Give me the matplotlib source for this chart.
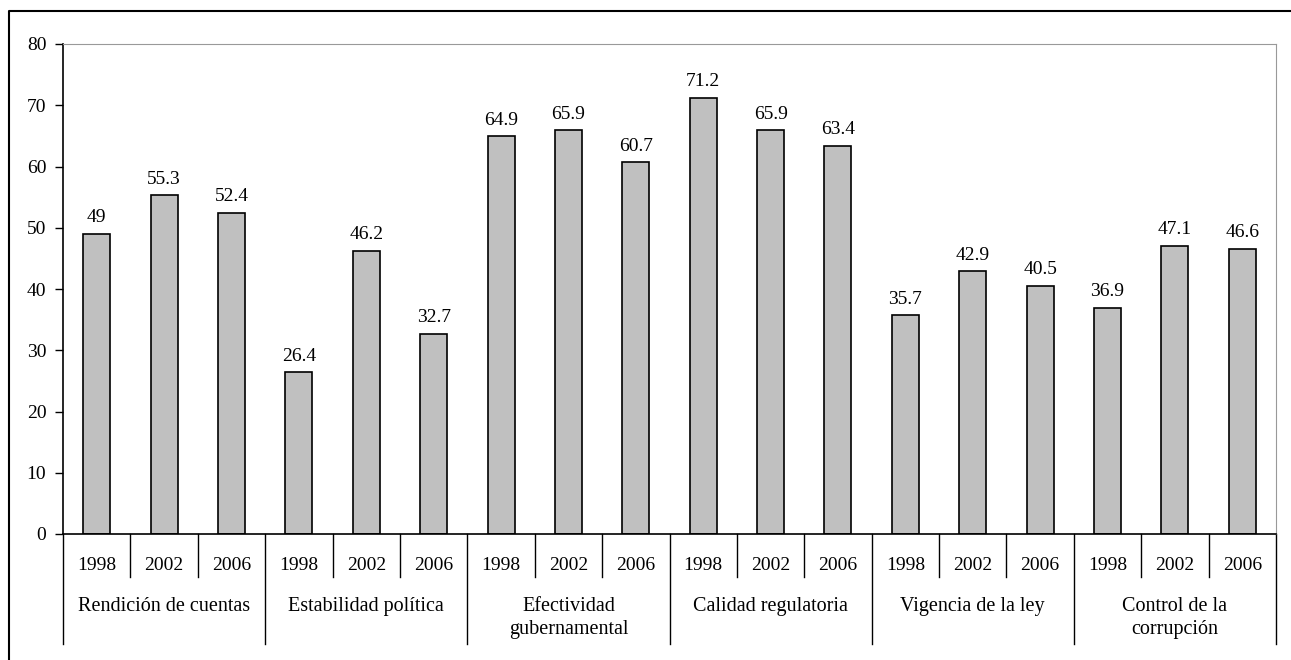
import matplotlib.pyplot as plt
from matplotlib.lines import Line2D
import numpy as np

plt.rcParams['font.family'] = ['Liberation Serif', 'DejaVu Serif']

groups = ["Rendición de cuentas", "Estabilidad política", "Efectividad\ngubernamental",
          "Calidad regulatoria", "Vigencia de la ley", "Control de la\ncorrupción"]
years = ["1998", "2002", "2006"]
values_1998 = [49, 26.4, 64.9, 71.2, 35.7, 36.9]
values_2002 = [55.3, 46.2, 65.9, 65.9, 42.9, 47.1]
values_2006 = [52.4, 32.7, 60.7, 63.4, 40.5, 46.6]

# interleave values group by group
vals = []
for a, b, c in zip(values_1998, values_2002, values_2006):
    vals += [a, b, c]
x = np.arange(len(vals))

fig = plt.figure(figsize=(12.91, 6.60), dpi=100)
ax = fig.add_axes([63/1291, 126/660, (1276-63)/1291, 490/660])

bars = ax.bar(x, vals, width=0.4, color='#c0c0c0', edgecolor='black', linewidth=1.2)
for xi, v in zip(x, vals):
    label = f"{v:g}"
    ax.annotate(label, (xi, v), xytext=(0, 5.5), textcoords='offset points',
                ha='center', va='bottom', fontsize=14)

ax.set_xlim(-0.5, len(vals) - 0.5)
ax.set_ylim(0, 80)
ax.set_yticks(np.arange(0, 81, 10))
ax.tick_params(axis='y', labelsize=14, length=6, width=1, direction='out', pad=6)
ax.set_xticks([])
ax.spines['top'].set_color('#999999')
ax.spines['right'].set_color('#999999')
ax.spines['left'].set_linewidth(1.2)
ax.spines['bottom'].set_linewidth(1.2)

# grouped category axis
tr = ax.get_xaxis_transform()
h = 490.0
for i in range(len(vals)):
    ax.text(i, -32/h, years[i % 3], transform=tr, ha='center', va='center', fontsize=14)
for i in range(len(vals) + 1):
    bottom = -110/h if i % 3 == 0 else -43/h
    ax.add_line(Line2D([i - 0.5, i - 0.5], [0, bottom], transform=tr, color='black',
                       linewidth=1, clip_on=False))
for g, name in enumerate(groups):
    ax.text(3*g + 1, -63/h, name, transform=tr, ha='center', va='top',
            fontsize=14.5, linespacing=1.3)

# outer frame
fig.add_artist(Line2D([9/1291, 9/1291, 1.0], [0.0, 1 - 11/660, 1 - 11/660],
                      transform=fig.transFigure, color='black', linewidth=1.5))

plt.savefig('out.png', dpi=100)
